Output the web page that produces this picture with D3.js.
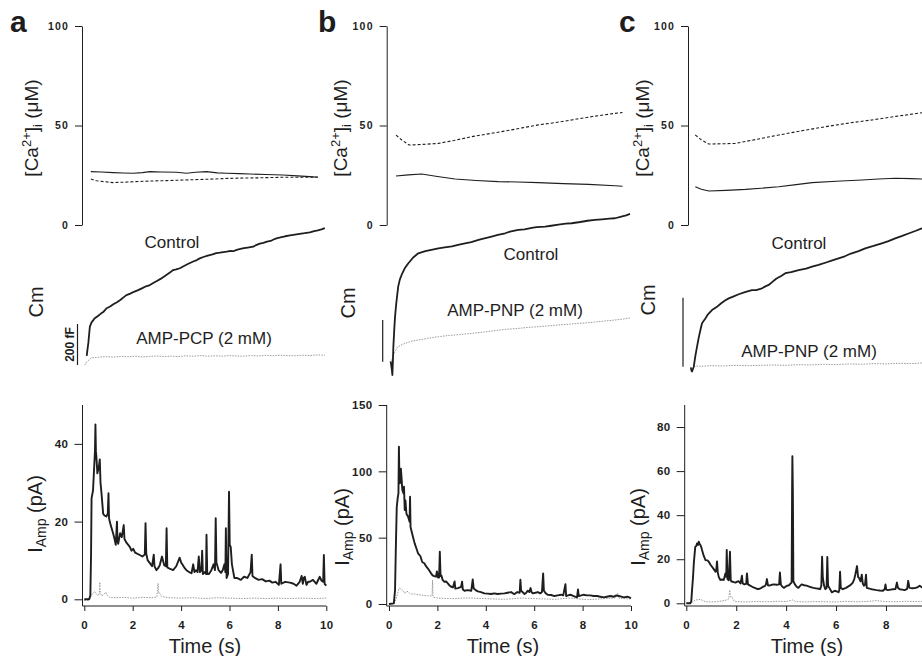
<!DOCTYPE html>
<html><head><meta charset="utf-8">
<script src="https://cdn.jsdelivr.net/npm/d3@7"></script>
<style>body{margin:0;background:#fff}svg{display:block;font-family:"Liberation Sans",Arial,Helvetica,sans-serif}</style>
</head><body><svg id="chart" width="922" height="656"></svg>
<script>
// ---------------- DATA (time in s, values in native units) ----------------
const panelLetters = ["a", "b", "c"];
const controlLabel = "Control";
const drugLabels = ["AMP-PCP (2 mM)", "AMP-PNP (2 mM)", "AMP-PNP (2 mM)"];
const cmBarLabel = "200 fF";
const cmBarValue = 200;
const timeTicks = [0, 2, 4, 6, 8, 10];
const caTicks = [0, 50, 100];
const iTicksA = [0, 20, 40];
const iTicksB = [0, 50, 100, 150];
const iTicksC = [0, 20, 40, 60, 80];
const iMaxA = 50, iMaxB = 150, iMaxC = 90;

// [Ca2+]i (uM) : solid and dashed traces
const caA_solid = [[0.27,26.8],[0.7,26.6],[1.19,26.3],[1.6,26.1],[2.02,26.0],[2.4,26.3],[2.71,26.8],[3.2,26.6],[3.81,26.5],[4.22,26.0],[4.6,26.5],[5.05,26.8],[5.5,26.2],[5.88,26.0],[6.4,25.8],[6.84,25.6],[7.5,25.4],[8.21,25.1],[8.8,24.7],[9.32,24.3],[9.65,24.0]];
const caA_dash = [[0.27,23.1],[0.5,22.2],[0.8,21.8],[1.19,21.3],[1.8,21.6],[2.71,22.1],[3.4,22.3],[4.08,22.6],[5.1,23.0],[6.15,23.5],[7.2,23.7],[8.21,24.0],[9.32,24.0],[9.65,24.1]];
const caB_solid = [[0.29,24.6],[0.8,25.2],[1.35,25.6],[2.0,24.4],[2.73,23.1],[3.6,22.4],[4.52,21.8],[5.3,21.6],[6.17,21.3],[7.2,20.8],[8.24,20.4],[9.34,19.7],[9.65,19.5]];
const caB_dash = [[0.29,45.2],[0.55,42.5],[0.83,40.2],[1.4,40.5],[2.04,41.0],[2.7,42.5],[3.42,44.4],[4.1,45.8],[4.79,47.2],[5.5,48.8],[6.17,50.3],[6.9,51.5],[7.55,52.8],[8.4,54.5],[9.34,56.1],[9.65,56.5]];
const caC_solid = [[0.36,19.2],[0.6,18.0],[0.9,17.1],[1.6,17.4],[2.37,17.9],[3.0,18.5],[3.7,19.2],[4.4,20.3],[5.04,21.3],[6.0,22.0],[7.04,22.6],[7.7,23.1],[8.37,23.5],[9.0,23.3],[9.44,23.1],[9.65,23.2]];
const caC_dash = [[0.36,45.2],[0.6,42.8],[0.9,40.7],[1.4,40.8],[1.96,41.0],[2.8,43.0],[3.7,45.2],[4.6,47.3],[5.57,49.4],[6.5,51.2],[7.44,52.8],[8.4,54.6],[9.44,56.4],[9.65,56.8]];

// Cm (fF, relative to the 200 fF scale bar origin)
const cmA_ctrl = [[0.1,45],[0.12,65],[0.17,110],[0.2,150],[0.23,187],[0.3,208],[0.38,220],[0.43,228],[0.55,238],[0.7,252],[0.8,260],[0.92,277],[1.05,284],[1.2,296],[1.35,306],[1.5,318],[1.62,330],[1.74,341],[1.9,348],[2.05,357],[2.2,364],[2.4,375],[2.55,384],[2.71,390],[2.85,400],[3.0,410],[3.15,420],[3.3,432],[3.45,444],[3.55,452],[3.67,463],[3.8,466],[3.95,472],[4.1,482],[4.3,494],[4.5,505],[4.65,512],[4.77,520],[4.95,528],[5.1,534],[5.3,540],[5.45,546],[5.6,548],[5.75,551],[5.88,553],[6.0,556],[6.15,555],[6.3,562],[6.45,566],[6.6,570],[6.75,573],[6.98,577],[7.1,585],[7.25,592],[7.4,596],[7.55,602],[7.7,605],[7.82,612],[7.94,618],[8.1,622],[8.3,628],[8.5,632],[8.7,636],[8.9,640],[9.1,643],[9.32,647],[9.5,653],[9.65,657],[9.8,662],[9.94,668]];
const cmA_drug = [[0.02,0],[0.1,16],[0.3,35],[0.6,38],[0.9,41],[1.2,38],[1.5,42],[1.8,40],[2.1,43],[2.4,39],[2.7,42],[3.0,44],[3.3,41],[3.6,43],[3.9,41],[4.2,45],[4.5,43],[4.8,46],[5.1,43],[5.4,45],[5.7,43],[6.0,46],[6.3,44],[6.6,43],[6.9,46],[7.2,44],[7.5,47],[7.8,45],[8.1,48],[8.4,46],[8.7,45],[9.0,48],[9.3,46],[9.6,49],[9.94,48]];
const cmB_ctrl = [[0.07,2],[0.12,-40],[0.14,-64],[0.16,0],[0.18,72],[0.22,160],[0.25,216],[0.3,280],[0.38,360],[0.45,395],[0.52,416],[0.65,448],[0.8,472],[1.0,500],[1.21,520],[1.5,530],[1.8,538],[2.04,544],[2.3,548],[2.6,553],[2.9,562],[3.14,568],[3.4,574],[3.7,584],[3.9,590],[4.24,600],[4.5,608],[4.8,616],[5.0,624],[5.34,632],[5.6,635],[5.9,642],[6.1,645],[6.45,648],[6.7,652],[7.0,657],[7.3,662],[7.55,664],[7.9,670],[8.2,676],[8.51,680],[8.8,683],[9.1,686],[9.34,688],[9.6,696],[9.8,702],[9.96,709]];
const cmB_drug = [[0.04,0],[0.08,-10],[0.1,5],[0.18,30],[0.25,48],[0.35,70],[0.5,80],[0.66,88],[0.85,95],[1.0,100],[1.3,106],[1.6,112],[2.04,120],[2.5,126],[3.0,131],[3.42,136],[3.9,142],[4.3,148],[4.79,155],[5.3,159],[5.7,164],[6.17,168],[6.7,173],[7.1,177],[7.55,181],[8.0,185],[8.5,190],[8.9,195],[9.34,200],[9.7,205],[9.96,210]];
const cmC_ctrl = [[0.18,-2],[0.21,-12],[0.23,-14],[0.27,-6],[0.3,0],[0.36,30],[0.43,58],[0.5,85],[0.57,108],[0.63,126],[0.75,138],[0.85,150],[1.03,164],[1.2,172],[1.4,184],[1.55,192],[1.7,198],[1.9,204],[2.1,210],[2.35,216],[2.63,222],[2.8,222],[3.0,226],[3.15,232],[3.3,237],[3.45,246],[3.6,255],[3.8,263],[3.97,271],[4.2,274],[4.5,280],[4.8,284],[5.04,290],[5.3,295],[5.6,302],[5.85,308],[6.1,314],[6.35,320],[6.6,328],[6.9,335],[7.17,343],[7.5,350],[7.8,357],[8.1,364],[8.37,372],[8.65,379],[8.9,386],[9.2,394],[9.44,401],[9.7,410],[10.0,420]];
const cmC_drug = [[0.3,0],[0.4,2],[0.6,1],[1.0,3],[1.5,2],[2.0,4],[2.5,3],[3.0,4],[3.5,5],[4.0,4],[4.5,6],[5.0,5],[5.5,7],[6.0,6],[6.5,8],[7.0,7],[7.5,9],[8.0,8],[8.5,10],[9.0,9],[9.5,11],[10.0,11]];

// I_Amp (pA)
const iA_ctrl = [[0,0],[0.2,0],[0.25,1],[0.28,12],[0.3,26],[0.33,27],[0.36,28],[0.4,33],[0.44,38],[0.46,45],[0.48,38],[0.5,36.7],[0.54,32.4],[0.6,34],[0.64,36],[0.67,30],[0.71,27.3],[0.78,22],[0.85,21.5],[0.91,21.3],[0.97,22],[1.0,27.3],[1.02,21],[1.05,20],[1.12,18.5],[1.19,17],[1.25,15.5],[1.3,14],[1.35,20],[1.37,15],[1.4,14.3],[1.48,17],[1.55,16],[1.63,19.1],[1.66,15.5],[1.75,14.5],[1.88,13.5],[1.95,12.5],[2.02,13],[2.1,12],[2.16,11.8],[2.29,11.4],[2.4,11],[2.5,11.5],[2.53,19.6],[2.56,11.8],[2.62,10],[2.71,9.3],[2.8,8.5],[2.87,11.5],[2.9,8.5],[2.98,7.5],[3.05,8],[3.12,8.8],[3.21,11],[3.3,8.8],[3.37,8.5],[3.4,18.3],[3.43,8.2],[3.55,7.8],[3.67,7.5],[3.8,8.5],[3.94,10.7],[4.0,9.5],[4.05,9],[4.15,8],[4.22,7.5],[4.33,7],[4.43,6.7],[4.5,9],[4.55,7],[4.62,7.5],[4.68,7],[4.73,11],[4.78,7],[4.84,7.5],[4.87,12.5],[4.9,6.5],[4.97,7],[5.03,6.5],[5.05,16.6],[5.08,6.5],[5.15,6.5],[5.25,7.5],[5.34,9],[5.4,7.5],[5.43,20.9],[5.46,9.5],[5.55,7.5],[5.65,6.8],[5.72,7.5],[5.79,9],[5.83,7],[5.85,18.3],[5.88,5.5],[5.94,6.5],[5.98,27.7],[6.01,14],[6.05,13.5],[6.1,9],[6.2,5.5],[6.3,5.5],[6.47,5],[6.6,5.8],[6.74,5.5],[6.87,7],[6.92,11.5],[6.95,6],[7.05,5.5],[7.2,5],[7.35,5.2],[7.5,4.6],[7.65,4.8],[7.77,4.3],[7.9,4.5],[8.04,3.7],[8.11,9],[8.14,4],[8.3,4.5],[8.5,4.3],[8.65,4],[8.77,3.5],[8.9,4.5],[8.98,6],[9.03,4],[9.07,5.5],[9.11,5.8],[9.18,3.7],[9.25,4.5],[9.32,4.5],[9.45,5],[9.59,4],[9.73,5.8],[9.8,4.8],[9.87,4.5],[9.9,11.4],[9.93,4],[10.0,3.5]];
const iA_drug = [[0,-0.3],[0.2,-0.2],[0.25,0.5],[0.3,1.1],[0.36,1.6],[0.43,2],[0.5,1.4],[0.57,0.9],[0.62,1.5],[0.64,4.4],[0.66,1.6],[0.72,0.9],[0.8,1.2],[0.89,1.8],[0.95,1],[1.05,0.5],[1.3,0.4],[1.6,0.5],[2.0,0.3],[2.4,0.5],[2.8,0.4],[3.0,0.6],[3.05,4.1],[3.08,1.5],[3.12,1.5],[3.2,0.7],[3.5,0.4],[4.0,0.3],[4.5,0.4],[5.0,0.2],[5.5,0.4],[6.0,0.3],[6.5,0.2],[7.0,0.3],[7.5,0.2],[8.0,0.3],[8.5,0.2],[9.0,0.3],[9.5,0.2],[10.0,0.3]];
const iB_ctrl = [[0,0],[0.2,0.5],[0.25,10.5],[0.28,40],[0.32,73],[0.36,80],[0.39,83.4],[0.41,118.5],[0.43,95],[0.45,91],[0.49,102],[0.52,95],[0.55,86],[0.6,83.4],[0.62,88.4],[0.65,70.8],[0.68,78],[0.72,68],[0.79,65.8],[0.85,62],[0.87,80.9],[0.89,58],[0.92,55.8],[1.0,50],[1.06,45.7],[1.13,42],[1.2,38.2],[1.3,36],[1.35,33],[1.38,31.5],[1.46,30.7],[1.53,28.5],[1.6,26.9],[1.67,25],[1.74,23.1],[1.8,21.6],[1.87,21],[1.94,20.6],[1.98,24.5],[2.02,20],[2.07,20],[2.1,39.4],[2.13,21],[2.16,21.6],[2.22,18],[2.29,16.8],[2.36,17],[2.43,15.6],[2.5,14],[2.57,13],[2.64,12.5],[2.71,17],[2.74,11.6],[2.85,12],[2.98,13],[3.02,16.8],[3.05,11],[3.12,10],[3.25,10.5],[3.4,10],[3.46,18.5],[3.5,11.6],[3.58,10.5],[3.67,9.5],[3.8,9],[3.94,8],[4.08,7.8],[4.22,7.5],[4.35,8],[4.49,7.5],[4.63,7.8],[4.77,8],[4.9,8.5],[5.05,9],[5.12,8],[5.19,7.5],[5.3,9],[5.4,8.5],[5.43,18.3],[5.46,10],[5.52,9],[5.6,7.5],[5.67,8.5],[5.74,10],[5.8,9],[5.85,12],[5.89,9],[5.94,8],[6.05,8.5],[6.15,9],[6.25,8],[6.32,9],[6.37,23.1],[6.4,10],[6.48,8],[6.56,7],[6.7,6.8],[6.84,6],[6.97,6.5],[7.11,7],[7.2,6.5],[7.29,15],[7.32,6],[7.4,6.5],[7.5,7],[7.63,6],[7.77,5],[7.81,11],[7.84,6],[7.95,6.5],[8.04,7],[8.18,6.5],[8.32,6.5],[8.45,6],[8.6,6],[8.73,5.5],[8.87,5],[9.0,5.5],[9.15,6],[9.29,5.5],[9.4,6.5],[9.5,6],[9.6,5.5],[9.7,5],[9.85,5.5],[10.0,4.5]];
const iB_drug = [[0,0],[0.21,0.2],[0.26,2],[0.32,5.5],[0.37,9],[0.41,11.8],[0.46,12],[0.52,11],[0.58,10],[0.65,8],[0.72,9.5],[0.79,9.3],[0.86,8],[0.92,7.5],[1.05,7.5],[1.2,7],[1.33,6.8],[1.46,6.4],[1.6,6.2],[1.74,6],[1.78,6.5],[1.8,18],[1.82,6],[1.84,5],[2.0,4.5],[2.35,4.2],[2.71,4],[3.05,4.5],[3.4,4.5],[3.75,4.2],[4.08,4],[4.4,3.8],[4.77,3.5],[5.1,4],[5.47,4.5],[5.8,4.2],[6.15,4],[6.5,3.8],[6.84,3.5],[7.15,4],[7.5,4.5],[7.85,3.8],[8.2,3.3],[8.55,3.6],[8.87,4],[9.1,4.2],[9.29,4.5],[9.4,5],[9.45,8],[9.5,4.5],[9.75,4],[10.0,3.8]];
const iC_ctrl = [[0,0],[0.16,0],[0.2,1],[0.23,6],[0.27,12],[0.3,18],[0.33,22],[0.36,25.7],[0.4,26],[0.43,27.2],[0.47,26.5],[0.5,28],[0.53,27],[0.57,26.3],[0.6,25.5],[0.63,24.2],[0.7,21.5],[0.77,19.6],[0.84,19.5],[0.9,18.9],[0.97,17.5],[1.03,16.6],[1.1,15.5],[1.17,14.3],[1.2,15],[1.23,19],[1.26,14],[1.3,12],[1.36,10.6],[1.43,10.8],[1.5,10.6],[1.57,13.6],[1.6,12],[1.62,24.2],[1.65,11],[1.7,10.5],[1.75,23.4],[1.78,10.5],[1.8,10],[1.9,9.6],[1.97,9.4],[2.04,9.8],[2.1,10],[2.17,9],[2.23,12.5],[2.26,9],[2.33,8.6],[2.4,8.8],[2.43,13.6],[2.47,8.6],[2.56,8],[2.64,7.5],[2.72,7.1],[2.79,6.8],[2.86,6.4],[2.93,6.6],[2.99,6.9],[3.07,7.5],[3.15,7.8],[3.19,8.6],[3.23,11],[3.27,8.2],[3.32,8],[3.42,8.4],[3.52,8.6],[3.62,8.4],[3.72,8.6],[3.75,14],[3.79,8.4],[3.85,7.5],[3.92,7],[3.98,7.6],[4.05,8],[4.12,8.2],[4.18,9],[4.22,9.4],[4.24,54],[4.25,66.8],[4.27,50],[4.29,10],[4.35,8.6],[4.42,7.5],[4.49,7],[4.55,7.8],[4.62,8.6],[4.72,8.2],[4.82,8],[4.95,7.5],[5.09,7],[5.2,6.8],[5.3,6.6],[5.36,6.4],[5.41,8],[5.44,21.1],[5.47,11.5],[5.52,8],[5.57,6.4],[5.62,7],[5.65,21],[5.68,8],[5.73,7],[5.83,5],[5.95,5.7],[6.05,5.3],[6.1,5],[6.13,6],[6.16,14.3],[6.19,7],[6.27,6.4],[6.4,7],[6.54,8],[6.6,8.5],[6.67,9.4],[6.73,11],[6.77,13],[6.84,16.9],[6.88,12],[6.92,11.5],[6.98,10],[7.03,13],[7.07,9],[7.12,8],[7.16,8.5],[7.2,13],[7.23,7],[7.3,6.8],[7.42,6.4],[7.52,6.2],[7.62,6],[7.75,5.8],[7.88,5.7],[7.95,6.5],[7.98,8.6],[8.01,6.2],[8.08,6],[8.18,6.2],[8.28,6.4],[8.38,6.5],[8.44,9.4],[8.48,7],[8.55,6.4],[8.65,6.2],[8.75,6],[8.85,6.5],[8.89,10.2],[8.93,7.5],[8.95,7],[9.05,6.8],[9.15,6.9],[9.25,7.2],[9.35,8],[9.45,7.2],[9.6,7],[9.8,6.8],[10.0,6.5]];
const iC_drug = [[0,0],[0.23,0.3],[0.3,1],[0.36,1.5],[0.45,1.6],[0.57,1.8],[0.67,1.2],[0.77,0.7],[1.0,0.6],[1.3,0.8],[1.62,1.5],[1.7,2],[1.74,6],[1.77,3],[1.83,3],[1.9,1.2],[2.0,0.8],[2.37,0.6],[2.8,0.8],[3.2,0.7],[3.72,0.9],[4.0,0.8],[4.25,1.5],[4.4,0.8],[4.8,0.6],[5.2,0.8],[5.6,0.7],[6.0,0.6],[6.4,0.9],[6.8,0.7],[7.2,0.8],[7.62,1.2],[8.0,0.8],[8.4,0.7],[8.8,0.9],[9.2,0.8],[9.6,0.9],[10.0,0.8]];

// ---------------- LAYOUT ----------------
const W = 922;
const layout = [
  {letterX:10, caAxisX:82, iAxisX:82.5, t0:84.3, tPx:24.2, iZero:599.3, cmBarX:77.5, cmBarY:[365,324], caLabelX:37.5, cmLabelX:43, cmLabelY:302, iLabelX:42, iLabelY:514, timeX:205, ctrlPos:[172,248], drugPos:[204,344], barLabel:true},
  {letterX:318, caAxisX:386.7, iAxisX:386.7, t0:389, tPx:24.2, iZero:604, cmBarX:382.7, cmBarY:[361.7,320], caLabelX:346.5, cmLabelX:355, cmLabelY:303, iLabelX:349, iLabelY:527, timeX:503, ctrlPos:[531,260], drugPos:[515,316], barLabel:false},
  {letterX:619, caAxisX:688, iAxisX:684.7, t0:686.3, tPx:24.96, iZero:603.3, cmBarX:683, cmBarY:[366.7,297.7], caLabelX:648.5, cmLabelX:655, cmLabelY:300, iLabelX:645, iLabelY:527, timeX:807, ctrlPos:[799,249], drugPos:[809,357], barLabel:false}
];
const caData = [[caA_solid, caA_dash],[caB_solid, caB_dash],[caC_solid, caC_dash]];
const cmData = [[cmA_ctrl, cmA_drug],[cmB_ctrl, cmB_drug],[cmC_ctrl, cmC_drug]];
const iData = [[iA_ctrl, iA_drug],[iB_ctrl, iB_drug],[iC_ctrl, iC_drug]];
const iTicks = [iTicksA, iTicksB, iTicksC];
const iMax = [iMaxA, iMaxB, iMaxC];

const CA_TOP = 26, CA_BOT = 225, I_TOP = 405, X_AXIS_Y = 606;
const INK = "#1e1e1e", GREY = "#9a9a9a";

const svg = d3.select("#chart");

function styleAxis(g, fs, ls) {
  g.selectAll("line").attr("stroke", INK).attr("stroke-width", 1);
  g.selectAll("path").attr("stroke", INK).attr("stroke-width", 1);
  g.selectAll("text").attr("fill", INK).attr("font-size", fs).attr("font-weight", "bold")
    .attr("letter-spacing", ls).attr("font-family", "'Liberation Sans', Arial, sans-serif");
}

layout.forEach((L, p) => {
  const g = svg.append("g");
  const x = d3.scaleLinear().domain([0, 10]).range([L.t0, L.t0 + 10 * L.tPx]);
  const yCa = d3.scaleLinear().domain([0, 100]).range([CA_BOT, CA_TOP]);
  const yCm = d3.scaleLinear().domain([0, cmBarValue]).range([L.cmBarY[0], L.cmBarY[1]]);
  const yI = d3.scaleLinear().domain([0, iMax[p]]).range([L.iZero, I_TOP]);

  // panel letter
  g.append("text").attr("x", L.letterX).attr("y", 32).attr("font-size", 30).attr("font-weight", "bold")
    .attr("fill", INK).text(panelLetters[p]);

  // ---- Ca panel ----
  const caAx = g.append("g").attr("transform", `translate(${L.caAxisX},0)`)
    .call(d3.axisLeft(yCa).tickValues(caTicks).tickSize(7).tickPadding(6).tickSizeOuter(0));
  styleAxis(caAx, 10.5, 1.2);
  const lineCa = d3.line().x(d => x(d[0])).y(d => yCa(d[1]));
  g.append("path").datum(caData[p][0]).attr("d", lineCa).attr("fill", "none").attr("stroke", INK).attr("stroke-width", 1.1);
  g.append("path").datum(caData[p][1]).attr("d", lineCa).attr("fill", "none").attr("stroke", INK).attr("stroke-width", 1.1).attr("stroke-dasharray", "3,2");
  const caLab = g.append("text").attr("transform", `translate(${L.caLabelX},128) rotate(-90)`)
    .attr("text-anchor", "middle").attr("font-size", 19).attr("fill", INK);
  caLab.append("tspan").text("[Ca");
  caLab.append("tspan").attr("dy", -7).attr("font-size", 13).text("2+");
  caLab.append("tspan").attr("dy", 7).text("]");
  caLab.append("tspan").attr("dy", 4).attr("font-size", 13).text("i");
  caLab.append("tspan").attr("dy", -4).text(" (\u03bcM)");

  // ---- Cm panel ----
  const lineCm = d3.line().x(d => x(d[0])).y(d => yCm(d[1]));
  g.append("path").datum(cmData[p][1]).attr("d", lineCm).attr("fill", "none").attr("stroke", GREY).attr("stroke-width", 1).attr("stroke-dasharray", "1.5,1.2");
  g.append("path").datum(cmData[p][0]).attr("d", lineCm).attr("fill", "none").attr("stroke", INK).attr("stroke-width", 1.8).attr("stroke-linejoin", "round");
  g.append("line").attr("x1", L.cmBarX).attr("x2", L.cmBarX).attr("y1", yCm(0)).attr("y2", yCm(cmBarValue))
    .attr("stroke", INK).attr("stroke-width", 1.2);
  if (L.barLabel) {
    g.append("text").attr("transform", `translate(${L.cmBarX - 4},${(yCm(0) + yCm(cmBarValue)) / 2}) rotate(-90)`)
      .attr("text-anchor", "middle").attr("font-size", 12).attr("font-weight", "bold").attr("fill", INK).text(cmBarLabel);
  }
  g.append("text").attr("transform", `translate(${L.cmLabelX},${L.cmLabelY}) rotate(-90)`)
    .attr("text-anchor", "middle").attr("font-size", 20).attr("fill", INK).text("Cm");
  g.append("text").attr("x", L.ctrlPos[0]).attr("y", L.ctrlPos[1]).attr("text-anchor", "middle")
    .attr("font-size", 17).attr("fill", INK).text(controlLabel);
  g.append("text").attr("x", L.drugPos[0]).attr("y", L.drugPos[1]).attr("text-anchor", "middle")
    .attr("font-size", 17).attr("fill", INK).text(drugLabels[p]);

  // ---- I_Amp panel ----
  const iAx = g.append("g").attr("transform", `translate(${L.iAxisX},0)`)
    .call(d3.axisLeft(yI).tickValues(iTicks[p]).tickSize(8).tickPadding(6).tickSizeOuter(0));
  iAx.select(".domain").remove();
  styleAxis(iAx, 11.5, 0.5);
  g.append("line").attr("x1", L.iAxisX).attr("x2", L.iAxisX).attr("y1", I_TOP).attr("y2", X_AXIS_Y).attr("stroke", INK);
  const visibleTicks = timeTicks.filter(t => x(t) + 6 < W);
  const xAx = g.append("g").attr("transform", `translate(0,${X_AXIS_Y})`)
    .call(d3.axisBottom(x).tickValues(visibleTicks).tickSize(5).tickPadding(10).tickSizeOuter(0));
  xAx.select(".domain").remove();
  styleAxis(xAx, 11.5, 0.5);
  g.append("line").attr("x1", L.iAxisX).attr("x2", Math.min(x(10), W)).attr("y1", X_AXIS_Y).attr("y2", X_AXIS_Y).attr("stroke", INK);

  const lineI = d3.line().x(d => x(d[0])).y(d => yI(d[1]));
  g.append("path").datum(iData[p][1]).attr("d", lineI).attr("fill", "none").attr("stroke", GREY).attr("stroke-width", 1).attr("stroke-dasharray", "1.5,1.2");
  g.append("path").datum(iData[p][0]).attr("d", lineI).attr("fill", "none").attr("stroke", INK).attr("stroke-width", 1.9).attr("stroke-linejoin", "round");

  const iLab = g.append("text").attr("transform", `translate(${L.iLabelX},${L.iLabelY}) rotate(-90)`)
    .attr("text-anchor", "middle").attr("font-size", 20).attr("fill", INK);
  iLab.append("tspan").text("I");
  iLab.append("tspan").attr("dy", 4).attr("font-size", 14).text("Amp");
  iLab.append("tspan").attr("dy", -4).text(" (pA)");

  g.append("text").attr("x", L.timeX).attr("y", 653).attr("text-anchor", "middle")
    .attr("font-size", 20).attr("fill", INK).text("Time (s)");
});
</script></body></html>
